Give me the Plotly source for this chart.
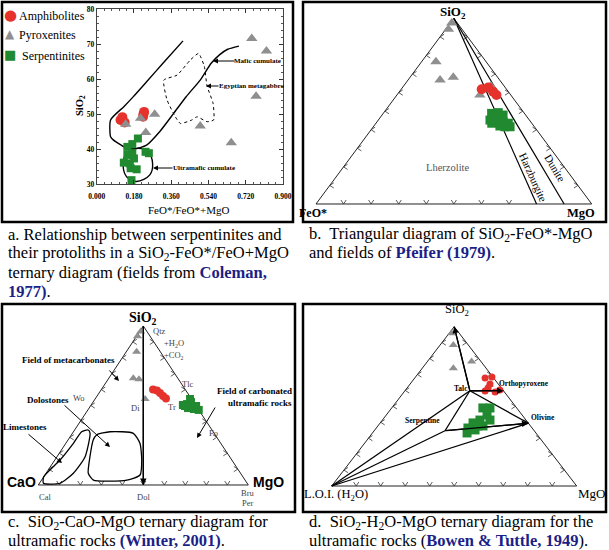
import plotly.graph_objects as go

W, H = 609, 550
SERIF = "Liberation Serif"
SANS = "Liberation Sans"
RED, GRAY, GREEN, NAVY = "#e5322d", "#8f8f8f", "#218a30", "#1b1f86"

# ---------------- Panel a : SiO2 vs FeO*/(FeO*+MgO) ----------------
a_amph_x = [0.115, 0.124, 0.135, 0.224, 0.226, 0.229]
a_amph_y = [48.3, 49.1, 47.6, 49.2, 50.0, 50.6]
a_pyx_x = [0.14, 0.212, 0.28, 0.237, 0.50, 0.65, 0.749, 0.82, 0.77]
a_pyx_y = [47.1, 48.8, 49.9, 44.7, 46.6, 41.8, 71.6, 68.0, 55.1]
a_serp_x = [0.199, 0.172, 0.148, 0.148, 0.172, 0.16, 0.131, 0.164, 0.193, 0.168, 0.252, 0.236, 0.18]
a_serp_y = [43.0, 41.4, 40.6, 38.3, 38.8, 35.9, 36.1, 34.5, 34.2, 31.1, 38.8, 39.2, 37.3]
# field outlines (Coleman, 1977)
a_mafic_x = [0.417, 0.32, 0.241, 0.176, 0.131, 0.067, 0.067, 0.08, 0.136, 0.18, 0.241, 0.305,
             0.372, 0.433, 0.5, 0.553, 0.593, 0.633, 0.687]
a_mafic_y = [70.9, 64.5, 59.2, 54.9, 52.1, 48.3, 43.5, 42.6, 40.5, 40.0, 41.1, 45.0,
             50.2, 55.0, 59.7, 64.5, 66.9, 68.5, 69.4]
a_ucum_x = [0.2, 0.248, 0.27, 0.2565, 0.1925, 0.144, 0.128, 0.144, 0.2]
a_ucum_y = [40.2, 39.2, 35.9, 32.6, 30.7, 32.1, 35.9, 38.8, 40.2]
a_egypt_x = [0.492, 0.52, 0.533, 0.562, 0.565, 0.533, 0.485, 0.46, 0.404, 0.38, 0.34, 0.324, 0.388, 0.452, 0.492]
a_egypt_y = [67.3, 63.6, 58.0, 53.1, 48.3, 47.8, 49.2, 48.3, 47.3, 49.2, 54.0, 59.7, 61.1, 65.4, 67.3]
a_xticks = [0.0, 0.18, 0.36, 0.54, 0.72, 0.9]
legend_names = ["Amphibolites", "Pyroxenites", "Serpentinites"]

# ---------------- Panel b : SiO2 - FeO* - MgO (wt%) ----------------
b_pyx_si = [97.5, 94.1, 76.6, 66.8, 68.2, 58.7, 63.5]
b_pyx_fe = [2.0, 4.9, 18.2, 21.6, 16.1, 11.2, 4.8]
b_pyx_mg = [0.5, 1.0, 5.2, 11.6, 15.7, 30.1, 31.7]
b_amph_si = [61.8, 60.5, 62.8, 58.7]
b_amph_fe = [9.0, 5.5, 6.1, 5.2]
b_amph_mg = [29.2, 34.0, 31.1, 36.1]
b_serp_si = [48.8, 49.2, 47.9, 45.2, 45.6, 44.3, 43.5, 41.6, 42.0, 43.5, 41.6]
b_serp_fe = [11.9, 9.3, 8.2, 14.3, 11.7, 10.0, 8.5, 8.8, 12.3, 14.5, 10.7]
b_serp_mg = [39.3, 41.5, 43.9, 40.5, 42.7, 45.7, 48.0, 49.6, 45.7, 42.0, 47.7]
b_bound_mg = [80, 90]        # Lherzolite/Harzburgite and Harzburgite/Dunite boundaries

# ---------------- Panel c : SiO2 - CaO - MgO ----------------
c_pyx_si = [96.5, 93.5, 83.8, 67.1, 66.5, 54.1]
c_pyx_ca = [3.0, 6.0, 11.3, 21.2, 18.8, 22.1]
c_pyx_mg = [0.5, 0.5, 4.9, 11.7, 14.7, 23.8]
c_amph_si = [60.1, 59.4, 57.9, 56.0, 54.4]
c_amph_ca = [15.3, 13.8, 13.1, 12.6, 12.0]
c_amph_mg = [24.6, 26.8, 29.0, 31.4, 33.6]
c_serp_si = [50.3, 50.9, 54.1, 52.2, 49.7, 47.2, 47.8, 48.4, 49.7]
c_serp_ca = [6.0, 3.7, 0.7, 1.2, 0.0, 0.0, 2.0, 4.5, 5.3]
c_serp_mg = [43.7, 45.4, 45.2, 46.6, 50.3, 52.8, 50.2, 47.1, 45.0]
c_lime_si = [1.1, 1.1, 7.4, 17.8, 32.5, 34.6, 33.5, 26.2, 15.7, 5.2, 1.1]
c_lime_ca = [97.0, 89.1, 79.6, 68.8, 59.1, 58.9, 62.6, 70.2, 81.8, 94.8, 97.0]
c_lime_mg = [1.9, 9.8, 13.0, 13.4, 8.4, 6.5, 3.9, 3.6, 2.5, 0.0, 1.9]
c_dolo_si = [31.5, 33.5, 32.5, 26.2, 15.7, 6.3, 3.1, 3.1, 7.4, 17.8, 28.3, 31.5]
c_dolo_ca = [56.5, 49.1, 38.5, 38.5, 42.9, 48.4, 56.3, 72.2, 72.5, 66.5, 59.7, 56.5]
c_dolo_mg = [12.0, 17.4, 29.0, 35.3, 41.4, 45.3, 40.6, 24.7, 20.1, 15.7, 12.0, 12.0]

# ---------------- Panel d : SiO2 - L.O.I.(H2O) - MgO ----------------
d_pyx_si = [95.9, 88.5, 73.9, 78.2, 63.4]
d_pyx_h2o = [3.1, 6.1, 13.4, 3.8, 4.0]
d_pyx_mg = [1.0, 5.4, 12.7, 18.0, 32.6]
d_amph_si = [67.8, 68.4, 64.0, 59.6, 59.0, 60.3, 61.5]
d_amph_h2o = [3.5, 0.4, 3.4, 7.6, 3.8, 1.2, 5.4]
d_amph_mg = [28.7, 31.2, 32.6, 32.8, 37.2, 38.5, 33.1]
d_serp_si = [49.0, 49.0, 44.6, 41.4, 39.6, 36.4, 33.3, 35.2, 37.7, 41.4, 37.7]
d_serp_h2o = [13.8, 10.9, 14.3, 18.8, 22.5, 26.2, 28.1, 23.9, 19.4, 14.7, 21.5]
d_serp_mg = [37.2, 40.1, 41.1, 39.8, 37.9, 37.4, 38.6, 40.9, 42.9, 43.9, 40.8]
# mineral nodes: SiO2, Talc, Serpentine, Orthopyroxene, Olivine, L.O.I. corner
d_node_names = ["SiO2", "Talc", "Serpentine", "Orthopyroxene", "Olivine", "LOI"]
d_node_si = [100, 59.8, 34.7, 59.8, 39.4, 0]
d_node_h2o = [0, 13.7, 36.4, 0, 0, 100]
d_node_mg = [0, 26.5, 28.9, 40.2, 60.6, 0]

# ---------------- helpers ----------------
def tern(top, left, right):
    xs, ys = [], []
    for t, l, r in zip(top, left, right):
        s = t + l + r
        xs.append(r / s + 0.5 * t / s)
        ys.append(t / s)
    return xs, ys

PAD = 0.06
def dom(x0, x1, ytop, ybot):
    wx, hy = x1 - x0, ybot - ytop
    xd = [(x0 - PAD * wx) / W, (x1 + PAD * wx) / W]
    yd = [1 - (ybot + PAD * hy) / H, 1 - (ytop - PAD * hy) / H]
    return xd, yd, wx, hy

# triangle panels (pixel corners)
TRI = {2: dom(316, 591.7, 18.3, 204), 3: dom(38.3, 248.3, 326, 485), 4: dom(331.7, 576.7, 326.7, 486)}

fig = go.Figure()

def add(x, y, k, **kw):
    xa = "x" if k == 1 else f"x{k}"
    ya = "y" if k == 1 else f"y{k}"
    kw.setdefault("showlegend", False)
    fig.add_trace(go.Scatter(x=x, y=y, xaxis=xa, yaxis=ya, cliponaxis=False, **kw))

def mk(color, symbol, size):
    return dict(color=color, symbol=symbol, size=size, line=dict(width=0))

# ---- panel a traces ----
add(a_mafic_x, a_mafic_y, 1, mode="lines", line=dict(color="black", width=1.4, shape="spline", smoothing=0.6), hoverinfo="skip")
add(a_ucum_x, a_ucum_y, 1, mode="lines", line=dict(color="black", width=1.4, shape="spline", smoothing=1), hoverinfo="skip")
add(a_egypt_x, a_egypt_y, 1, mode="lines", line=dict(color="black", width=1, dash="dot", shape="spline", smoothing=0.5), hoverinfo="skip")
add(a_amph_x, a_amph_y, 1, mode="markers", name=legend_names[0], marker=mk(RED, "circle", 10))
add(a_pyx_x, a_pyx_y, 1, mode="markers", name=legend_names[1], marker=mk(GRAY, "triangle-up", 10))
add(a_serp_x, a_serp_y, 1, mode="markers", name=legend_names[2], marker=mk(GREEN, "square", 8))

# ---- triangle frames and chevron ticks ----
def frame(k, skip_bottom=()):
    xd, yd, wx, hy = TRI[k]
    cx, cy = tern([0, 0, 100, 0], [100, 0, 0, 100], [0, 100, 0, 0])
    add(cx, cy, k, mode="lines", line=dict(color="#222", width=1), hoverinfo="skip")
    xs, ys = [], []
    L, S = 4.0, 2.6
    for i in range(1, 10):
        t = i / 10
        pts = []
        if i not in skip_bottom:
            pts.append(((t, 0), [(-S, L), (S, L)]))
        pts.append(((0.5 * t, t), [(L, S), (L, -S)]))
        pts.append(((1 - 0.5 * t, t), [(-L, S), (-L, -S)]))
        for (px0, py0), arms in pts:
            xs += [px0 + arms[0][0] / wx, px0, px0 + arms[1][0] / wx, None]
            ys += [py0 + arms[0][1] / hy, py0, py0 + arms[1][1] / hy, None]
    add(xs, ys, k, mode="lines", line=dict(color="#333", width=0.8), hoverinfo="skip")

frame(2, skip_bottom=(8, 9))
frame(3)
frame(4)

# ---- panel b ----
for mg in b_bound_mg:
    lx, ly = tern([100, 0], [0, 100 - mg], [0, mg])
    add(lx, ly, 2, mode="lines", line=dict(color="black", width=1.2), hoverinfo="skip")
x, y = tern(b_pyx_si, b_pyx_fe, b_pyx_mg); add(x, y, 2, mode="markers", marker=mk(GRAY, "triangle-up", 10))
x, y = tern(b_amph_si, b_amph_fe, b_amph_mg); add(x, y, 2, mode="markers", marker=mk(RED, "circle", 10))
x, y = tern(b_serp_si, b_serp_fe, b_serp_mg); add(x, y, 2, mode="markers", marker=mk(GREEN, "square", 9))

# ---- panel c ----
x, y = tern(c_lime_si, c_lime_ca, c_lime_mg); add(x, y, 3, mode="lines", line=dict(color="black", width=1.3, shape="spline", smoothing=0.6), hoverinfo="skip")
x, y = tern(c_dolo_si, c_dolo_ca, c_dolo_mg); add(x, y, 3, mode="lines", line=dict(color="black", width=1.3, shape="spline", smoothing=0.6), hoverinfo="skip")
dolx, doly = tern([100, 0], [0, 50], [0, 50])
add(dolx, doly, 3, mode="lines", line=dict(color="black", width=1.3), hoverinfo="skip")
x, y = tern(c_pyx_si, c_pyx_ca, c_pyx_mg); add(x, y, 3, mode="markers", marker=mk(GRAY, "triangle-up", 8))
x, y = tern(c_amph_si, c_amph_ca, c_amph_mg); add(x, y, 3, mode="markers", marker=mk(RED, "circle", 8))
x, y = tern(c_serp_si, c_serp_ca, c_serp_mg); add(x, y, 3, mode="markers", marker=mk(GREEN, "square", 8))

# ---- panel d ----
nx, ny = tern(d_node_si, d_node_h2o, d_node_mg)
N = {n: (a, b) for n, a, b in zip(d_node_names, nx, ny)}
tie_lines = [("Talc", "SiO2"), ("Talc", "Orthopyroxene"), ("Talc", "Olivine"), ("Talc", "Serpentine"),
             ("LOI", "Talc"), ("LOI", "Serpentine"), ("LOI", "Olivine"), ("Serpentine", "Olivine")]
tx, ty = [], []
for p, q in tie_lines:
    tx += [N[p][0], N[q][0], None]
    ty += [N[p][1], N[q][1], None]
add(tx, ty, 4, mode="lines", line=dict(color="black", width=1.3), hoverinfo="skip")
x, y = tern(d_pyx_si, d_pyx_h2o, d_pyx_mg); add(x, y, 4, mode="markers", marker=mk(GRAY, "triangle-up", 8))
x, y = tern(d_amph_si, d_amph_h2o, d_amph_mg); add(x, y, 4, mode="markers", marker=mk(RED, "circle", 7))
x, y = tern(d_serp_si, d_serp_h2o, d_serp_mg); add(x, y, 4, mode="markers", marker=mk(GREEN, "square", 9))

# ---------------- annotations ----------------
ann = []
def note(xp, yp, text, size, bold=False, color="black", family=SERIF, xanchor="center", angle=0):
    ann.append(dict(xref="paper", yref="paper", x=xp / W, y=1 - yp / H, text=text, showarrow=False,
                    xanchor=xanchor, yanchor="middle", textangle=angle, align=xanchor,
                    font=dict(family=family, size=size, color=color, weight="bold" if bold else "normal")))

def parrow(tail, tip, width=1.0, size=1.0):
    ann.append(dict(xref="paper", yref="paper", x=tip[0] / W, y=1 - tip[1] / H,
                    axref="pixel", ayref="pixel", ax=tail[0] - tip[0], ay=tail[1] - tip[1],
                    text="", showarrow=True, arrowhead=2, arrowsize=size, arrowwidth=width,
                    arrowcolor="black", standoff=0))

def darrow(k, tail, tip):
    ann.append(dict(xref=f"x{k}", yref=f"y{k}", axref=f"x{k}", ayref=f"y{k}", x=tip[0], y=tip[1],
                    ax=tail[0], ay=tail[1], text="", showarrow=True, arrowhead=2, arrowsize=1,
                    arrowwidth=1.3, arrowcolor="black", standoff=0))

# panel a legend (key glyphs + names)
note(10, 15, "\u25cf", 15, color=RED, family="DejaVu Sans")
note(10, 34, "\u25b2", 12, color=GRAY, family="DejaVu Sans")
note(10, 55, "\u25a0", 13, color=GREEN, family="DejaVu Sans")
note(17, 16, legend_names[0], 12, xanchor="left")
note(17, 35, legend_names[1], 12, xanchor="left")
note(20, 56, legend_names[2], 12, xanchor="left")

# panel a texts
note(188, 210, "FeO*/FeO*+MgO", 11)
note(80, 106, "SiO<sub>2</sub>", 10.5, bold=True, angle=-90)
note(257, 61, "Mafic cumulate", 7, bold=True)
parrow((236, 61), (213, 61))
note(252, 86, "Egyptian metagabbro", 7, bold=True)
parrow((220, 86), (206, 86))
note(204, 168, "Ultramafic cumulate", 7, bold=True)
parrow((174, 168), (153, 168))

# panel b
note(453, 12, "SiO<sub>2</sub>", 13, bold=True)
note(313, 213, "FeO*", 12, bold=True)
note(581, 213, "MgO", 12.5, bold=True)
note(447, 168, "Lherzolite", 10.5, color="#555")
note(533, 177, "Harzburgite", 11, angle=65.8)
note(555, 168, "Dunite", 11, angle=59.4)

# panel c
note(143, 318, "SiO<sub>2</sub>", 14, bold=True)
note(21, 482, "CaO", 14, bold=True, family=SANS)
note(268, 482, "MgO", 14, bold=True, family=SANS)
for (xx, yy, tt) in [(159, 331, "Qtz"), (174, 343, "+H<sub>2</sub>O"), (174, 355, "+CO<sub>2</sub>"),
                     (188, 384, "Tlc"), (172, 407, "Tr"), (135, 408, "Di"), (79, 398, "Wo"),
                     (213, 433, "Fo"), (45, 497, "Cal"), (143, 497, "Dol"), (248, 493, "Bru"), (248, 503, "Per")]:
    note(xx, yy, tt, 8.5, color="#444")
note(68, 360, "Field of metacarbonates", 9, bold=True)
parrow((108, 369), (119, 381))
note(254, 391, "Field of carbonated", 9, bold=True)
note(260, 402.5, "ultramafic rocks", 9, bold=True)
parrow((216, 406), (197, 438))
note(48, 400, "Dolostones", 9, bold=True)
parrow((63, 404), (110, 447))
note(25, 427, "Limestones", 9, bold=True)
parrow((27, 433), (62, 463))
darrow(3, (dolx[0], doly[0]), (dolx[1], doly[1]))

# panel d
note(457, 310, "SiO<sub>2</sub>", 12.5)
note(302, 495, "L.O.I. (H<sub>2</sub>O)", 12.5, xanchor="left")
note(607, 493, "MgO", 13, xanchor="right")
note(461, 388, "Talc", 7.5, bold=True)
note(524, 383, "Orthopyroxene", 7.5, bold=True)
note(543, 417, "Olivine", 7.5, bold=True)
note(422, 420, "Serpentine", 7.5, bold=True)
darrow(4, N["Talc"], N["SiO2"])
darrow(4, N["Talc"], N["Orthopyroxene"])
darrow(4, N["Serpentine"], N["Olivine"])

# captions
def blue(t):
    return f'<span style="color:{NAVY}"><b>{t}</b></span>'
CAP = 16.5
note(6, 234, "a. Relationship between serpentinites and", CAP, xanchor="left")
note(6, 253, "their protoliths in a SiO<sub>2</sub>-FeO*/FeO+MgO", CAP, xanchor="left")
note(6, 272, "ternary diagram (fields from " + blue("Coleman,"), CAP, xanchor="left")
note(6, 291, blue("1977)") + ".", CAP, xanchor="left")
note(307, 234, "b.\u00a0 Triangular diagram of SiO<sub>2</sub>-FeO*-MgO", CAP, xanchor="left")
note(307, 253, "and fields of " + blue("Pfeifer (1979)") + ".", CAP, xanchor="left")
note(6, 522, "c.\u00a0 SiO<sub>2</sub>-CaO-MgO ternary diagram for", CAP, xanchor="left")
note(6, 540, "ultramafic rocks " + blue("(Winter, 2001)") + ".", CAP, xanchor="left")
note(307, 522, "d.\u00a0 SiO<sub>2</sub>-H<sub>2</sub>O-MgO ternary diagram for the", CAP, xanchor="left")
note(307, 540, "ultramafic rocks (" + blue("Bowen &amp; Tuttle, 1949") + ").", CAP, xanchor="left")

# panel borders
shapes = []
for (x0, y0, x1, y1) in [(2, 2, 293, 222), (303, 2, 606, 222), (2, 304, 295, 512), (303, 304, 606, 512)]:
    shapes.append(dict(type="rect", xref="paper", yref="paper", x0=x0 / W, x1=x1 / W, y0=1 - y1 / H, y1=1 - y0 / H,
                       line=dict(color="black", width=2.5), fillcolor="rgba(0,0,0,0)"))

tickfont = dict(family=SERIF, size=7.5, color="black", weight="bold")
layout = dict(
    width=W, height=H, margin=dict(l=0, r=0, t=0, b=0, pad=0, autoexpand=False), showlegend=False,
    paper_bgcolor="white", plot_bgcolor="white",
    xaxis=dict(domain=[96.7 / W, 283 / W], range=[0, 0.9], tickmode="array", tickvals=a_xticks,
               ticktext=[f"{v:.3f}" for v in a_xticks], ticks="inside", ticklen=4, tickcolor="#333",
               showline=True, linecolor="#444", linewidth=1, mirror="allticks", showgrid=False, zeroline=False,
               tickfont=tickfont, anchor="y", ticklabelstandoff=5, automargin=False,
               minor=dict(ticks="inside", ticklen=2, tickcolor="#555", tickvals=[i * 0.036 for i in range(26)], showgrid=False)),
    yaxis=dict(domain=[1 - 184 / H, 1 - 9 / H], range=[30, 80], tick0=30, dtick=10, ticks="inside", ticklen=4,
               tickcolor="#333", showline=True, linecolor="#444", linewidth=1, mirror="allticks", showgrid=False,
               zeroline=False, tickfont=tickfont, anchor="x", automargin=False,
               minor=dict(ticks="inside", ticklen=2, tickcolor="#555", dtick=2, showgrid=False)),
    annotations=ann, shapes=shapes,
)
for k, (xd, yd, wx, hy) in TRI.items():
    layout[f"xaxis{k}"] = dict(domain=xd, range=[-PAD, 1 + PAD], visible=False, anchor=f"y{k}", fixedrange=True)
    layout[f"yaxis{k}"] = dict(domain=yd, range=[-PAD, 1 + PAD], visible=False, anchor=f"x{k}", fixedrange=True)

fig.update_layout(**layout)
fig.write_html("out.html", config={"displayModeBar": False},
               post_script="document.body.style.margin='0';document.body.style.overflow='hidden';")
